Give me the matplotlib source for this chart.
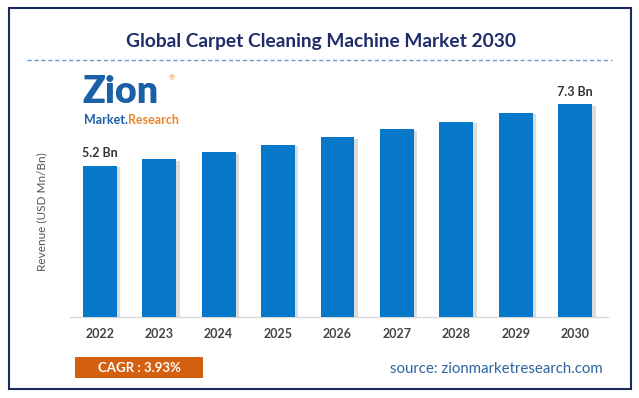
import numpy as np
import matplotlib.pyplot as plt
import matplotlib.patheffects as pe
from matplotlib.patches import Rectangle

# Data
years = ['2022', '2023', '2024', '2025', '2026', '2027', '2028', '2029', '2030']
revenue = [5.2, 5.42, 5.65, 5.91, 6.17, 6.44, 6.71, 7.0, 7.3]
value_labels = {0: '5.2 Bn', 8: '7.3 Bn'}
cagr_text = 'CAGR : 3.93%'

plt.rcParams['font.family'] = ['Lato', 'DejaVu Sans']

W, H = 639, 398
fig = plt.figure(figsize=(W / 100, H / 100), dpi=100)
fig.patch.set_facecolor('white')

# axes placed in pixel coordinates: left 70, right 608, bottom 317, top 70
ax = fig.add_axes([70 / W, 1 - 317 / H, (608 - 70) / W, (317 - 70) / H])
x = np.arange(len(years))
bars = ax.bar(x, revenue, width=0.57, color='#0777C9', zorder=3)
for b in bars:
    b.set_path_effects([pe.SimplePatchShadow(offset=(2.5, -1), shadow_rgbFace='#777777', alpha=0.25),
                        pe.Normal()])

ax.set_xlim(-0.5, 8.55)
ax.set_ylim(0, 8.48)
ax.set_xticks(x)
ax.set_xticklabels(years, fontsize=9, fontweight='bold', color='#444444')
ax.tick_params(axis='x', length=0, pad=8)
ax.set_yticks([])
for s in ['top', 'right', 'left']:
    ax.spines[s].set_visible(False)
ax.spines['bottom'].set_color('#d9d9d9')
ax.spines['bottom'].set_linewidth(1)

for i, lab in value_labels.items():
    ax.text(x[i], revenue[i] + 0.22, lab, ha='center', va='bottom',
            fontsize=9, fontweight='bold', color='#333333')

# y label
fig.text(42 / W, 1 - 212 / H, 'Revenue (USD Mn/Bn)', rotation=90, ha='center', va='center',
         fontsize=8.5, color='#555555')

# title and dashed line
fig.text(321 / W, 1 - 42 / H, 'Global Carpet Cleaning Machine Market 2030', ha='center', va='center',
         fontsize=13.8, fontweight='bold', color='#1F2D6B')
fig.add_artist(plt.Line2D([27 / W, 612 / W], [1 - 60 / H, 1 - 60 / H], color='#6A9AD6',
                          linestyle=(0, (3, 2)), linewidth=1))

# logo
fig.text(83 / W, 1 - 103 / H, 'Zion', ha='left', va='baseline', fontsize=27,
         fontweight='heavy', color='#1A5FA8')
fig.text(169 / W, 1 - 78 / H, '®', ha='left', va='center', fontsize=5, color='#E8862A')
t1 = fig.text(84 / W, 1 - 124 / H, 'Market.', ha='left', va='baseline', fontsize=9,
              fontweight='bold', color='#1A5FA8')
renderer = fig.canvas.get_renderer()
bb = t1.get_window_extent(renderer)
fig.text(bb.x1 / W, 1 - 124 / H, 'Research', ha='left', va='baseline', fontsize=9,
         fontweight='bold', color='#E8862A')

# CAGR box
fig.add_artist(Rectangle((75 / W, 1 - 378 / H), 128 / W, 21 / H, transform=fig.transFigure,
                         facecolor='#D2600E', edgecolor='none'))
fig.text(139 / W, 1 - 367.5 / H, cagr_text, ha='center', va='center', fontsize=9.5,
         fontweight='bold', color='white')

# source
fig.text(603 / W, 1 - 369 / H, 'source: zionmarketresearch.com', ha='right', va='center',
         fontsize=10.8, color='#2E64A0')

# border
fig.add_artist(Rectangle((9 / W, 1 - 389 / H), 622 / W, 381 / H, transform=fig.transFigure,
                         facecolor='none', edgecolor='#1B2A5E', linewidth=1.5))

plt.savefig('out.png', dpi=100)
